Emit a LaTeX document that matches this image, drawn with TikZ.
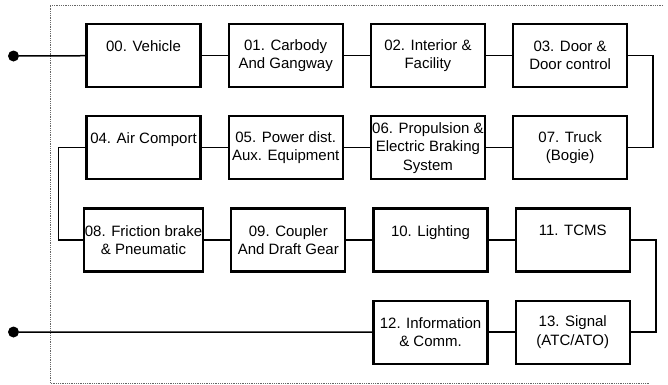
\documentclass[tikz,border=0pt]{standalone}
\usepackage{fontspec}
\setmainfont{Liberation Sans}
\usetikzlibrary{positioning}

\begin{document}
\begin{tikzpicture}[
    box/.style={
        draw,
        line width=2.2pt,
        minimum width=114pt,
        minimum height=63pt,
        align=center,
        inner sep=1pt,
        font=\fontsize{15}{18.5}\selectfont,
        fill=white
    },
    wire/.style={line width=1.5pt},
    dot/.style={circle, fill, inner sep=0pt, minimum size=11pt},
    frame/.style={densely dotted, line width=0.8pt, black!60},
    node distance=27pt and 26pt
]

\useasboundingbox (0,0) rectangle (668pt,-384pt);

\draw[frame] (663pt,-5pt) -- (50pt,-5pt) -- (50pt,-383pt) -- (650pt,-383pt);

\node[box] (veh) at (143.5pt,-55.5pt) {
    00. Vehicle\\~
};

\node[box, right=of veh] (carb) {
    01. Carbody\\
    And Gangway
};

\node[box, right=of carb] (inter) {
    02. Interior \&\\
    Facility
};

\node[box, right=of inter] (door) {
    03. Door \&\\
    Door control
};

\node[box, below=of veh] (air) {
    04. Air Comport\\~
};

\node[box, right=of air] (power) {
    05. Power dist.\\
    Aux. Equipment
};

\node[box, right=of power] (prop) {
    06. Propulsion \&\\
    Electric Braking\\
    System
};

\node[box, right=of prop] (truck) {
    07. Truck\\
    (Bogie)
};

\node[box, below=of air] (brake) {
    08. Friction brake\\
    \& Pneumatic
};

\node[box, right=of brake] (coup) {
    09. Coupler\\
    And Draft Gear
};

\node[box, right=of coup] (light) {
    10. Lighting\\~
};

\node[box, right=of light] (tcms) {
    11. TCMS\\~
};

\node[box, below=of light] (info) {
    12. Information\\
    \& Comm.
};

\node[box, right=of info] (sig) {
    13. Signal\\
    (ATC/ATO)
};

\node[dot] (start) at (13.5pt,-56pt) {};
\node[dot] (stop) at (13.5pt,-332pt) {};

\draw[wire] (start) -- (veh);
\draw[wire] (veh) -- (carb);
\draw[wire] (carb) -- (inter);
\draw[wire] (inter) -- (door);
\draw[wire] (door.east) -- ++(25pt,0) |- (truck.east);
\draw[wire] (truck) -- (prop);
\draw[wire] (prop) -- (power);
\draw[wire] (power) -- (air);
\draw[wire] (air.west) -- ++(-27pt,0) |- (brake.west);
\draw[wire] (brake) -- (coup);
\draw[wire] (coup) -- (light);
\draw[wire] (light) -- (tcms);
\draw[wire] (tcms.east) -- ++(25pt,0) |- (sig.east);
\draw[wire] (sig) -- (info);
\draw[wire] (info.west) -- (stop);

\end{tikzpicture}
\end{document}
